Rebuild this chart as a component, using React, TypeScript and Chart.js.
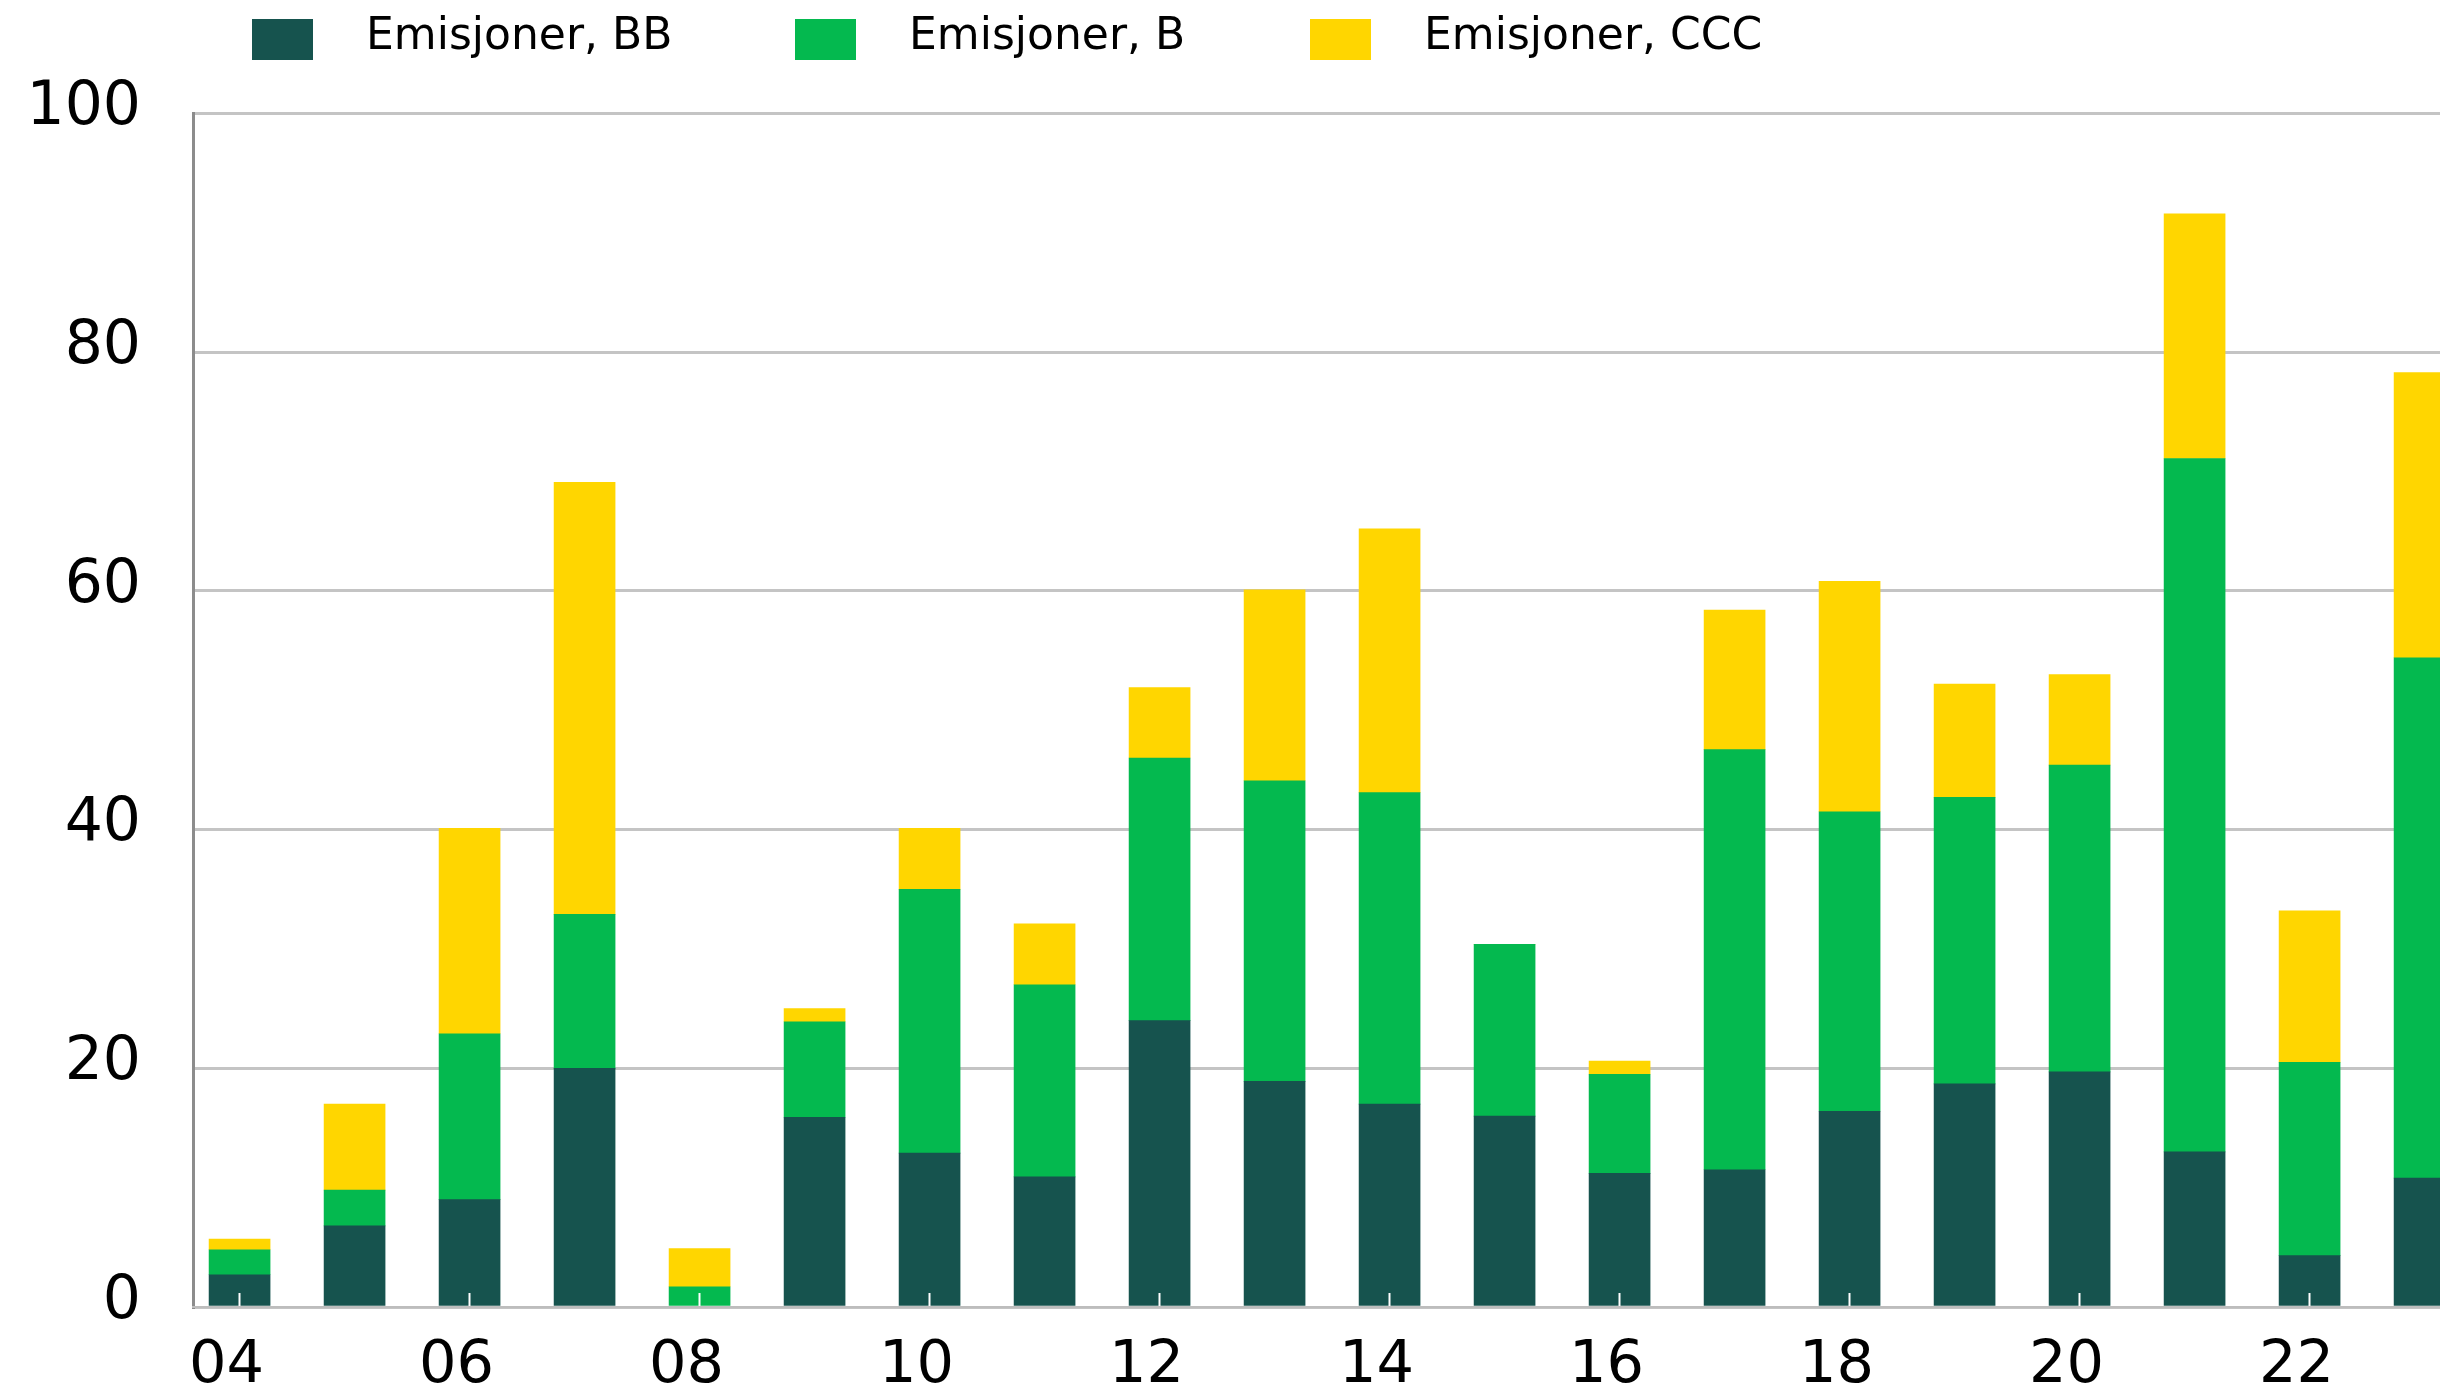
import React, { useEffect, useRef } from "react";
import { Chart, registerables } from "chart.js";

Chart.register(...registerables);

const years = [2004, 2005, 2006, 2007, 2008, 2009, 2010, 2011, 2012, 2013, 2014, 2015, 2016, 2017, 2018, 2019, 2020, 2021, 2022, 2023];
const seriesBB = [2.7, 6.8, 9.0, 20.0, 0, 15.9, 12.9, 10.9, 24.0, 18.9, 17.0, 16.0, 11.2, 11.5, 16.4, 18.7, 19.7, 13.0, 4.3, 10.8];
const seriesB = [2.1, 3.0, 13.9, 12.9, 1.7, 8.0, 22.1, 16.1, 22.0, 25.2, 26.1, 14.4, 8.3, 35.2, 25.1, 24.0, 25.7, 58.1, 16.2, 43.6];
const seriesCCC = [0.9, 7.2, 17.2, 36.2, 3.2, 1.1, 5.1, 5.1, 5.9, 16.0, 22.1, 0, 1.1, 11.7, 19.3, 9.5, 7.6, 20.5, 12.7, 23.9];
const seriesNames = ["Emisjoner, BB", "Emisjoner, B", "Emisjoner, CCC"];
const xTickYears = [2004, 2006, 2008, 2010, 2012, 2014, 2016, 2018, 2020, 2022];
const yTicks = [0, 20, 40, 60, 80, 100];

const COLORS = ["#16534e", "#04b94f", "#ffd600"];
const FONT = "'DejaVu Sans', 'Noto Sans', sans-serif";

const legendPlugin = {
  id: "customLegend",
  afterDraw(chart: any) {
    const ctx = chart.ctx;
    const xs = [252, 795, 1310];
    ctx.save();
    ctx.font = `44px ${FONT}`;
    ctx.textBaseline = "alphabetic";
    ctx.textAlign = "left";
    chart.data.datasets.forEach((ds: any, i: number) => {
      ctx.fillStyle = ds.backgroundColor;
      ctx.fillRect(xs[i], 19, 61, 41);
      ctx.fillStyle = "#000000";
      ctx.fillText(ds.label, xs[i] + 114, 49);
    });
    ctx.restore();
  },
};

export default function App() {
  const ref = useRef<HTMLCanvasElement | null>(null);

  useEffect(() => {
    if (!ref.current) return;
    const chart = new Chart(ref.current, {
      type: "bar",
      data: {
        labels: years,
        datasets: [
          { label: seriesNames[0], data: seriesBB, backgroundColor: COLORS[0], borderWidth: 0 },
          { label: seriesNames[1], data: seriesB, backgroundColor: COLORS[1], borderWidth: 0 },
          { label: seriesNames[2], data: seriesCCC, backgroundColor: COLORS[2], borderWidth: 0 },
        ],
      },
      options: {
        responsive: false,
        animation: false,
        devicePixelRatio: 1,
        barThickness: 61,
        layout: { padding: { top: 113.6, left: 0, right: 0, bottom: 0 } },
        plugins: {
          legend: { display: false },
          tooltip: { enabled: false },
          title: { display: false },
        },
        scales: {
          x: {
            type: "linear",
            stacked: true,
            offset: false,
            min: 2003.595,
            max: 2023.134,
            afterBuildTicks: (scale: any) => {
              scale.ticks = xTickYears.map((v) => ({ value: v }));
            },
            afterFit: (scale: any) => {
              scale.height = 113;
            },
            grid: {
              display: true,
              offset: false,
              drawOnChartArea: false,
              drawTicks: true,
              tickLength: -14,
              tickColor: "#ffffff",
              tickWidth: 2,
              z: 1,
            },
            border: { display: true, color: "#bdbdbd", width: 2, z: 1 },
            ticks: {
              autoSkip: false,
              maxRotation: 0,
              minRotation: 0,
              padding: 38,
              labelOffset: -13,
              color: "#000000",
              font: { family: FONT, size: 59 },
              callback: (v: any) => String(v).slice(2),
            },
          },
          y: {
            stacked: true,
            min: 0,
            max: 100,
            afterBuildTicks: (scale: any) => {
              scale.ticks = yTicks.map((v) => ({ value: v }));
            },
            afterFit: (scale: any) => {
              scale.width = 193;
            },
            grid: {
              color: "#c4c4c4",
              lineWidth: 3,
              drawTicks: false,
            },
            border: { display: true, color: "#8c8c8c", width: 3 },
            ticks: {
              padding: 52,
              labelOffset: -5,
              color: "#000000",
              font: { family: FONT, size: 60 },
              callback: (v: any) => String(v),
            },
          },
        },
      } as any,
      plugins: [legendPlugin],
    });
    return () => chart.destroy();
  }, []);

  return (
    <div
      style={{
        position: "fixed",
        left: 0,
        top: 0,
        width: 2440,
        height: 1394,
        overflow: "hidden",
        background: "#ffffff",
      }}
    >
      <canvas ref={ref} width={2440} height={1420} style={{ display: "block" }} />
    </div>
  );
}
